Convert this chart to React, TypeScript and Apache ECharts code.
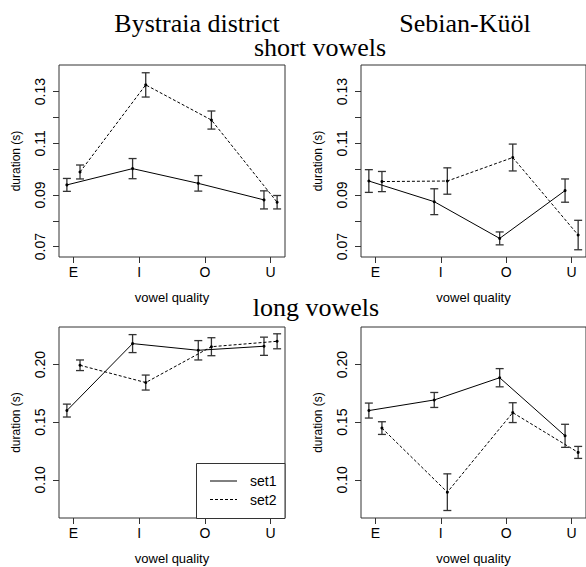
import React, { useEffect, useRef } from "react";
import * as echarts from "echarts";

const vowels = ["E", "I", "O", "U"];
const vowelPos = [1, 2, 3, 4];
const offset1 = -0.1;
const offset2 = 0.1;

// Bystraia district, short vowels
const bdShortSet1 = [0.0939, 0.1002, 0.0945, 0.0881];
const bdShortSet1Err = [0.0025, 0.0039, 0.003, 0.0035];
const bdShortSet2 = [0.0989, 0.1326, 0.119, 0.0872];
const bdShortSet2Err = [0.0027, 0.0047, 0.0035, 0.0026];

// Sebian-Küöl, short vowels
const skShortSet1 = [0.0954, 0.0874, 0.0732, 0.0917];
const skShortSet1Err = [0.0044, 0.005, 0.0025, 0.0045];
const skShortSet2 = [0.0952, 0.0954, 0.1045, 0.0745];
const skShortSet2Err = [0.0039, 0.0051, 0.0052, 0.0057];

// Bystraia district, long vowels
const bdLongSet1 = [0.1601, 0.2182, 0.2124, 0.2159];
const bdLongSet1Err = [0.0056, 0.0078, 0.0084, 0.0079];
const bdLongSet2 = [0.1994, 0.1844, 0.2155, 0.2202];
const bdLongSet2Err = [0.0046, 0.0065, 0.0078, 0.0065];

// Sebian-Küöl, long vowels
const skLongSet1 = [0.1601, 0.1693, 0.1886, 0.1382];
const skLongSet1Err = [0.0065, 0.0065, 0.0079, 0.01];
const skLongSet2 = [0.1449, 0.0893, 0.1583, 0.1238];
const skLongSet2Err = [0.0055, 0.0159, 0.0086, 0.0052];

const shortTicks = [0.07, 0.08, 0.09, 0.1, 0.11, 0.12, 0.13];
const shortLabels = [0.07, 0.09, 0.11, 0.13];
const longTicks = [0.1, 0.15, 0.2];
const longLabels = [0.1, 0.15, 0.2];

const titles = ["Bystraia district", "Sebian-Küöl"];
const rowTitles = ["short vowels", "long vowels"];
const legendNames = ["set1", "set2"];

const SANS = "Liberation Sans, Arial, sans-serif";
const SERIF = "Liberation Serif, Times New Roman, serif";

export default function App() {
  const ref = useRef<HTMLDivElement>(null);
  useEffect(() => {
    document.body.style.margin = "0";
    const chart = echarts.init(ref.current!, null, { renderer: "svg" });

    const grids = [
      { left: 59, top: 65, width: 226, height: 192 },
      { left: 361, top: 65, width: 226, height: 192 },
      { left: 59, top: 327, width: 226, height: 191 },
      { left: 361, top: 327, width: 226, height: 191 },
    ];
    const panels = [
      { s1: bdShortSet1, e1: bdShortSet1Err, s2: bdShortSet2, e2: bdShortSet2Err, min: 0.066, max: 0.1403, ticks: shortTicks, labels: shortLabels },
      { s1: skShortSet1, e1: skShortSet1Err, s2: skShortSet2, e2: skShortSet2Err, min: 0.066, max: 0.1403, ticks: shortTicks, labels: shortLabels },
      { s1: bdLongSet1, e1: bdLongSet1Err, s2: bdLongSet2, e2: bdLongSet2Err, min: 0.0669, max: 0.2326, ticks: longTicks, labels: longLabels },
      { s1: skLongSet1, e1: skLongSet1Err, s2: skLongSet2, e2: skLongSet2Err, min: 0.0669, max: 0.2326, ticks: longTicks, labels: longLabels },
    ];

    const frameColor = "#333";

    const xAxis = grids.map((_, i) => ({
      type: "value",
      gridIndex: i,
      min: 0.78,
      max: 4.22,
      axisLine: { show: false },
      splitLine: { show: false },
      axisTick: { show: true, length: 6, customValues: vowelPos, lineStyle: { color: frameColor, width: 1 } },
      axisLabel: {
        customValues: vowelPos,
        formatter: (v: number) => vowels[Math.round(v) - 1] ?? "",
        margin: 8,
        fontSize: 14,
        color: "#000",
        fontFamily: SANS,
      },
      name: "vowel quality",
      nameLocation: "middle",
      nameGap: 34,
      nameTextStyle: { fontSize: 13, color: "#000", fontFamily: SANS },
    }));

    const yAxis = panels.map((p, i) => ({
      type: "value",
      gridIndex: i,
      min: p.min,
      max: p.max,
      axisLine: { show: false },
      splitLine: { show: false },
      axisTick: { show: true, length: 6, customValues: p.ticks, lineStyle: { color: frameColor, width: 1 } },
      axisLabel: {
        customValues: p.labels,
        formatter: (v: number) => v.toFixed(2),
        rotate: 90,
        margin: 12,
        fontSize: 14,
        color: "#000",
        fontFamily: SANS,
      },
      name: "duration (s)",
      nameLocation: "middle",
      nameGap: 37,
      nameRotate: 90,
      nameTextStyle: { fontSize: 12, color: "#000", fontFamily: SANS },
    }));

    const series: any[] = [];
    panels.forEach((p, i) => {
      const errData: number[][] = [];
      vowelPos.forEach((x, k) => {
        errData.push([x + offset1, p.s1[k] - p.e1[k], p.s1[k] + p.e1[k]]);
        errData.push([x + offset2, p.s2[k] - p.e2[k], p.s2[k] + p.e2[k]]);
      });
      series.push({
        type: "custom",
        xAxisIndex: i,
        yAxisIndex: i,
        data: errData,
        encode: { x: 0, y: [1, 2] },
        renderItem: (params: any, api: any) => {
          const x = api.value(0);
          const lo = api.coord([x, api.value(1)]);
          const hi = api.coord([x, api.value(2)]);
          const w = 4;
          const style = { stroke: "#333", lineWidth: 1.3 };
          return {
            type: "group",
            children: [
              { type: "line", shape: { x1: lo[0], y1: lo[1], x2: hi[0], y2: hi[1] }, style },
              { type: "line", shape: { x1: lo[0] - w, y1: lo[1], x2: lo[0] + w, y2: lo[1] }, style },
              { type: "line", shape: { x1: hi[0] - w, y1: hi[1], x2: hi[0] + w, y2: hi[1] }, style },
            ],
          };
        },
        z: 1,
      });
      series.push({
        type: "line",
        name: legendNames[0],
        xAxisIndex: i,
        yAxisIndex: i,
        data: vowelPos.map((x, k) => [x + offset1, p.s1[k]]),
        symbol: "circle",
        symbolSize: 3,
        itemStyle: { color: "#000" },
        lineStyle: { color: "#000", width: 1, type: "solid" },
        z: 2,
      });
      series.push({
        type: "line",
        name: legendNames[1],
        xAxisIndex: i,
        yAxisIndex: i,
        data: vowelPos.map((x, k) => [x + offset2, p.s2[k]]),
        symbol: "circle",
        symbolSize: 3,
        itemStyle: { color: "#000" },
        lineStyle: { color: "#000", width: 1, type: [3, 2] },
        z: 2,
      });
    });

    const graphic: any[] = [
      { type: "text", x: 197, y: 23, style: { text: titles[0], font: `26px ${SERIF}`, fill: "#000", align: "center", verticalAlign: "middle" } },
      { type: "text", x: 465, y: 23, style: { text: titles[1], font: `26px ${SERIF}`, fill: "#000", align: "center", verticalAlign: "middle" } },
      { type: "text", x: 320, y: 47, style: { text: rowTitles[0], font: `26px ${SERIF}`, fill: "#000", align: "center", verticalAlign: "middle" } },
      { type: "text", x: 316, y: 307, style: { text: rowTitles[1], font: `26px ${SERIF}`, fill: "#000", align: "center", verticalAlign: "middle" } },
      // legend
      { type: "rect", shape: { x: 196.5, y: 463.5, width: 88.5, height: 55 }, style: { fill: "#fff", stroke: frameColor, lineWidth: 1 }, z: 10 },
      { type: "line", shape: { x1: 210, y1: 481, x2: 237, y2: 481 }, style: { stroke: "#000", lineWidth: 1 }, z: 11 },
      { type: "line", shape: { x1: 210, y1: 499.5, x2: 237, y2: 499.5 }, style: { stroke: "#000", lineWidth: 1, lineDash: [3, 2] }, z: 11 },
      { type: "text", x: 250, y: 481, style: { text: legendNames[0], font: `14px ${SANS}`, fill: "#000", align: "left", verticalAlign: "middle" }, z: 11 },
      { type: "text", x: 250, y: 499.5, style: { text: legendNames[1], font: `14px ${SANS}`, fill: "#000", align: "left", verticalAlign: "middle" }, z: 11 },
    ];

    chart.setOption({
      animation: false,
      backgroundColor: "#fff",
      grid: grids.map((g) => ({ ...g, show: true, borderColor: frameColor, borderWidth: 1, backgroundColor: "transparent" })),
      xAxis,
      yAxis,
      series,
      graphic,
    });
    return () => chart.dispose();
  }, []);
  return <div ref={ref} style={{ width: 586, height: 567 }} />;
}
